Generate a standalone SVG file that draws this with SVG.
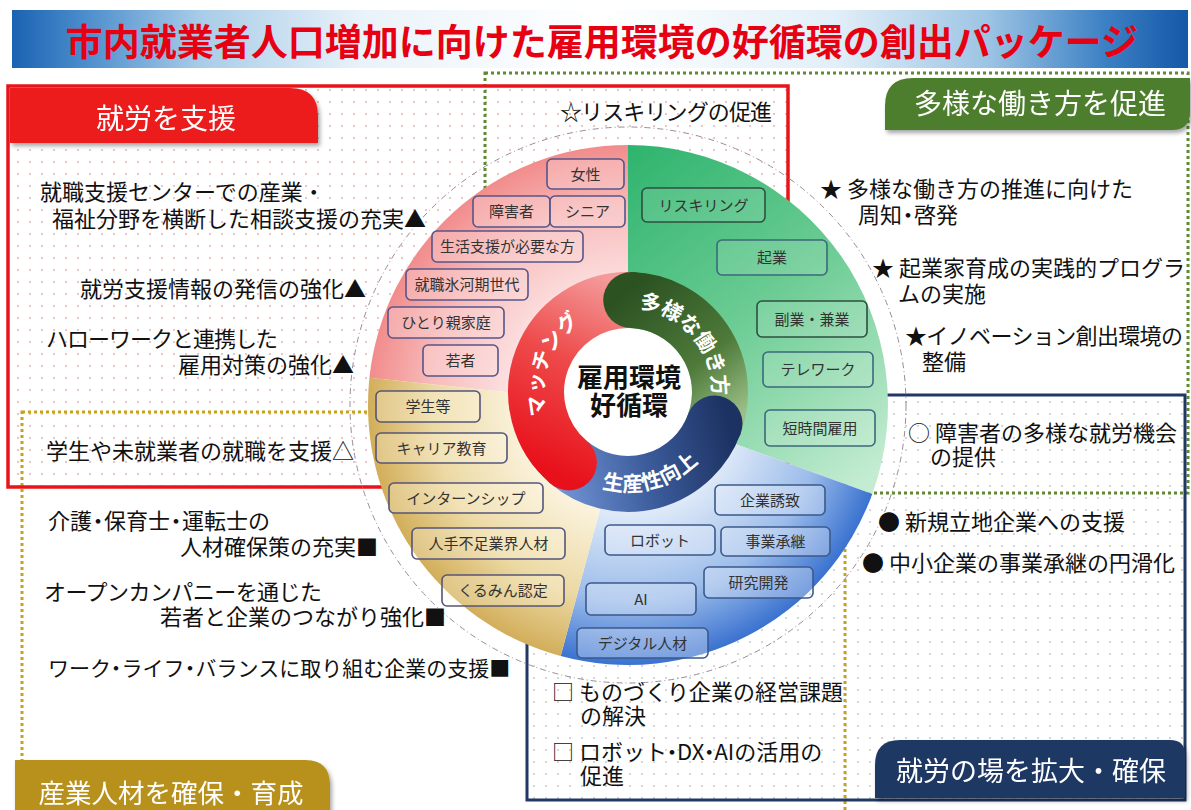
<svg xmlns="http://www.w3.org/2000/svg" width="1191" height="810" viewBox="0 0 1191 810">
<style>
.jp{font-family:"Noto Sans CJK JP","Noto Sans",sans-serif}
.body{font-size:22px;fill:#111}
.lbl{font-size:15px;fill:#333;text-anchor:middle}
.tab{fill:#fff;text-anchor:middle}
.band{font-size:21px;fill:#fff;font-weight:bold}
.pbox{fill:#fde0e0;fill-opacity:.35;stroke:#55558a;stroke-width:1.6}
.gbox{fill:#ffffff;fill-opacity:.12;stroke:#2f4f3f;stroke-width:1.6}
.gbox2{fill:#ffffff;fill-opacity:.12;stroke:#3a6a7a;stroke-width:1.6}
.bbox{fill:#eef4fd;fill-opacity:.35;stroke:#3a5a8a;stroke-width:1.6}
.ybox{fill:#fff8e6;fill-opacity:.3;stroke:#55557a;stroke-width:1.6}
</style>
<defs>
<pattern id="dotPink" width="12" height="12" patternUnits="userSpaceOnUse"><circle cx="6" cy="6" r="1.1" fill="#e8b8b8"/></pattern>
<pattern id="dotGray" width="12" height="12" patternUnits="userSpaceOnUse"><circle cx="6" cy="6" r="1.1" fill="#cccccc"/></pattern>
<linearGradient id="titleGrad" x1="0" y1="0" x2="1" y2="0">
<stop offset="0" stop-color="#1a62b2"/><stop offset="0.06" stop-color="#4a8ccc"/><stop offset="0.16" stop-color="#a8cce8"/><stop offset="0.3" stop-color="#eaf3fa"/><stop offset="0.5" stop-color="#ffffff"/><stop offset="0.7" stop-color="#e2eff8"/><stop offset="0.83" stop-color="#9cc4e4"/><stop offset="0.93" stop-color="#3c80c4"/><stop offset="1" stop-color="#1458a8"/>
</linearGradient>
<radialGradient id="gPink" cx="628" cy="405" r="260" gradientUnits="userSpaceOnUse"><stop offset="0.4" stop-color="#fde8e8"/><stop offset="0.75" stop-color="#f8bcbc"/><stop offset="1" stop-color="#f28c8c"/></radialGradient>
<linearGradient id="gGreen" x1="628" y1="150" x2="880" y2="470" gradientUnits="userSpaceOnUse"><stop offset="0" stop-color="#2fb46e"/><stop offset="0.5" stop-color="#6ccc94"/><stop offset="1" stop-color="#c4ecd2"/></linearGradient>
<radialGradient id="gBlue" cx="628" cy="405" r="260" gradientUnits="userSpaceOnUse"><stop offset="0.4" stop-color="#e2ecf9"/><stop offset="0.75" stop-color="#9cbcea"/><stop offset="1" stop-color="#3a72d0"/></radialGradient>
<radialGradient id="gGold" cx="628" cy="405" r="260" gradientUnits="userSpaceOnUse"><stop offset="0.4" stop-color="#fbf4e0"/><stop offset="0.75" stop-color="#ecd9a4"/><stop offset="1" stop-color="#d2ae5a"/></radialGradient>
<linearGradient id="bRed" x1="545" y1="470" x2="630" y2="290" gradientUnits="userSpaceOnUse"><stop offset="0" stop-color="#e8101a"/><stop offset="0.55" stop-color="#ee4a4a"/><stop offset="1" stop-color="#f49a9a"/></linearGradient>
<linearGradient id="bGreen" x1="630" y1="290" x2="735" y2="420" gradientUnits="userSpaceOnUse"><stop offset="0" stop-color="#2c5222"/><stop offset="0.6" stop-color="#4e7a3a"/><stop offset="1" stop-color="#9cc088"/></linearGradient>
<linearGradient id="bBlue" x1="555" y1="470" x2="730" y2="430" gradientUnits="userSpaceOnUse"><stop offset="0" stop-color="#7294d4"/><stop offset="0.5" stop-color="#3c5c9c"/><stop offset="1" stop-color="#1c3262"/></linearGradient>
<filter id="sh" x="-10%" y="-20%" width="120%" height="150%"><feDropShadow dx="2" dy="3" stdDeviation="2" flood-color="#000" flood-opacity="0.35"/></filter>
<path id="pRed" d="M558.8,440.5 A84.5,84.5 0 0 1 606.1,310.4"/>
<path id="pGreen" d="M628,307.5 A84.5,84.5 0 0 1 711.2,406.7"/>
<path id="pBlue" d="M564.0,468.2 A99.5,99.5 0 0 0 721.5,426.0"/>
</defs>

<rect x="0" y="0" width="1191" height="810" fill="#ffffff"/>

<g id="title">
<rect x="12" y="10" width="1176" height="58" fill="url(#titleGrad)"/>
<text class="jp" x="602" y="56" font-size="37" font-weight="bold" fill="#e60012" text-anchor="middle">市内就業者人口増加に向けた雇用環境の好循環の創出パッケージ</text>
</g>

<g id="frames">
<rect x="8" y="86" width="780" height="401" fill="url(#dotPink)"/>
<rect x="527" y="395" width="658" height="405" fill="url(#dotGray)"/>
<rect x="485" y="73" width="703" height="420" fill="none" stroke="#5e8a32" stroke-width="3" stroke-dasharray="3 3"/>
<rect x="22" y="412" width="823" height="420" fill="none" stroke="#c8a414" stroke-width="3" stroke-dasharray="3 3"/>
<rect x="527" y="395" width="658" height="405" fill="none" stroke="#1f3864" stroke-width="3"/>
<rect x="8" y="86" width="780" height="401" fill="none" stroke="#e8141a" stroke-width="3.5"/>
</g>

<g id="tab-shuro" filter="url(#sh)">
<path d="M10,88 H290 Q318,88 318,116 V143 H10 Z" fill="#ec1c1c"/>
<text class="jp tab" x="166" y="129" font-size="28">就労を支援</text>
</g>
<g id="tab-tayo" filter="url(#sh)">
<path d="M913,78 H1190 V112 Q1190,130 1172,130 H885 V106 Q885,78 913,78 Z" fill="#4e7e2e"/>
<text class="jp tab" x="1040" y="114" font-size="28">多様な働き方を促進</text>
</g>
<g id="tab-ba" filter="url(#sh)">
<path d="M900,740 H1170 Q1185,740 1185,755 V798 H875 V765 Q875,740 900,740 Z" fill="#1f3864"/>
<text class="jp tab" x="1031" y="781" font-size="27">就労の場を拡大・確保</text>
</g>
<g id="tab-sangyo" filter="url(#sh)">
<path d="M15,760 H305 Q330,760 330,785 V812 H15 Z" fill="#b8901c"/>
<text class="jp tab" x="171" y="803" font-size="26.5">産業人材を確保・育成</text>
</g>

<g id="wheel">
<circle cx="628" cy="405" r="278" fill="none" stroke="#9a8a9a" stroke-width="1" stroke-dasharray="6 3 1 3"/>
<path d="M628,405 L369.4,377.8 A260,260 0 0 1 628,145 Z" fill="url(#gPink)"/>
<path d="M628,405 L628,145 A260,260 0 0 1 872.3,493.9 Z" fill="url(#gGreen)"/>
<path d="M628,405 L872.3,493.9 A260,260 0 0 1 560.7,656.1 Z" fill="url(#gBlue)"/>
<path d="M628,405 L560.7,656.1 A260,260 0 0 1 369.4,377.8 Z" fill="url(#gGold)"/>
</g>

<g id="node-josei"><rect class="pbox" x="547" y="159" width="77" height="30" rx="5"/><text class="jp lbl" x="585.5" y="179.5">女性</text></g>
<g id="node-shogaisha"><rect class="pbox" x="473" y="196" width="77" height="31" rx="5"/><text class="jp lbl" x="511.5" y="217">障害者</text></g>
<g id="node-senior"><rect class="pbox" x="550" y="196" width="75" height="31" rx="5"/><text class="jp lbl" x="587.5" y="217">シニア</text></g>
<g id="node-seikatsu"><rect class="pbox" x="432" y="231" width="151" height="31" rx="5"/><text class="jp lbl" x="507.5" y="252">生活支援が必要な方</text></g>
<g id="node-hyogaki"><rect class="pbox" x="406" y="269" width="122" height="31" rx="5"/><text class="jp lbl" x="467" y="290">就職氷河期世代</text></g>
<g id="node-hitorioya"><rect class="pbox" x="388" y="307" width="116" height="31" rx="5"/><text class="jp lbl" x="446" y="328">ひとり親家庭</text></g>
<g id="node-wakamono"><rect class="pbox" x="423" y="345" width="75" height="31" rx="5"/><text class="jp lbl" x="460.5" y="366">若者</text></g>

<g id="node-reskilling"><rect class="gbox" x="642" y="188" width="123" height="34" rx="5"/><text class="jp lbl" x="703.5" y="210.5">リスキリング</text></g>
<g id="node-kigyo"><rect class="gbox2" x="717" y="240" width="110" height="35" rx="5"/><text class="jp lbl" x="772" y="263">起業</text></g>
<g id="node-fukugyo"><rect class="gbox" x="757" y="301" width="110" height="36" rx="5"/><text class="jp lbl" x="812" y="324.5">副業・兼業</text></g>
<g id="node-telework"><rect class="gbox2" x="763" y="352" width="110" height="35" rx="5"/><text class="jp lbl" x="818" y="375">テレワーク</text></g>
<g id="node-tanjikan"><rect class="gbox2" x="765" y="410" width="110" height="36" rx="5"/><text class="jp lbl" x="820" y="433.5">短時間雇用</text></g>

<g id="node-yuchi"><rect class="bbox" x="715" y="485" width="110" height="30" rx="5"/><text class="jp lbl" x="770" y="505.5">企業誘致</text></g>
<g id="node-robot"><rect class="bbox" x="605" y="525" width="110" height="30" rx="5"/><text class="jp lbl" x="660" y="545.5">ロボット</text></g>
<g id="node-shokei"><rect class="bbox" x="721" y="527" width="109" height="29" rx="5"/><text class="jp lbl" x="775.5" y="547">事業承継</text></g>
<g id="node-kenkyu"><rect class="bbox" x="704" y="567" width="109" height="31" rx="5"/><text class="jp lbl" x="758.5" y="588">研究開発</text></g>
<g id="node-ai"><rect class="bbox" x="586" y="583" width="110" height="32" rx="5"/><text class="jp lbl" x="641" y="604.5">AI</text></g>
<g id="node-digital"><rect class="bbox" x="577" y="628" width="131" height="30" rx="5"/><text class="jp lbl" x="642.5" y="648.5">デジタル人材</text></g>

<g id="node-gakusei"><rect class="ybox" x="376" y="391" width="104" height="31" rx="5"/><text class="jp lbl" x="428" y="412">学生等</text></g>
<g id="node-career"><rect class="ybox" x="376" y="433" width="131" height="30" rx="5"/><text class="jp lbl" x="441.5" y="453.5">キャリア教育</text></g>
<g id="node-intern"><rect class="ybox" x="389" y="483" width="154" height="30" rx="5"/><text class="jp lbl" x="466" y="503.5">インターンシップ</text></g>
<g id="node-hitode"><rect class="ybox" x="412" y="528" width="153" height="31" rx="5"/><text class="jp lbl" x="488.5" y="549">人手不足業界人材</text></g>
<g id="node-kurumin"><rect class="ybox" x="442" y="575" width="122" height="31" rx="5"/><text class="jp lbl" x="503" y="596">くるみん認定</text></g>

<g id="hub">
<circle cx="628" cy="392" r="64" fill="#ffffff"/>
<path d="M568.9,462.5 A92,92 0 0 1 631.2,300.1" fill="none" stroke="url(#bRed)" stroke-width="56"/>
<path d="M631.2,300.1 A92,92 0 0 1 714.5,423.5" fill="none" stroke="url(#bGreen)" stroke-width="56"/>
<path d="M714.5,423.5 A92,92 0 0 1 568.9,462.5" fill="none" stroke="url(#bBlue)" stroke-width="56"/>
<circle cx="568.9" cy="462.5" r="28" fill="url(#bRed)"/>
<circle cx="631.2" cy="300.1" r="28" fill="url(#bGreen)"/>
<circle cx="714.5" cy="423.5" r="28" fill="url(#bBlue)"/>
<text class="jp band"><textPath href="#pRed" startOffset="50%" text-anchor="middle">マッチング</textPath></text>
<text class="jp band"><textPath href="#pGreen" startOffset="50%" text-anchor="middle">多様な働き方</textPath></text>
<text class="jp band"><textPath href="#pBlue" startOffset="50%" text-anchor="middle">生産性向上</textPath></text>
<text class="jp" x="629" y="387" font-size="26" font-weight="bold" fill="#111" text-anchor="middle">雇用環境</text>
<text class="jp" x="629" y="415" font-size="26" font-weight="bold" fill="#111" text-anchor="middle">好循環</text>
</g>

<g id="connectors"></g>

<g id="texts" class="jp body">
<text x="560" y="120" textLength="212">☆リスキリングの促進</text>
<text x="40" y="200">就職支援センターでの産業・</text>
<text x="52" y="227">福祉分野を横断した相談支援の充実▲</text>
<text x="80" y="297">就労支援情報の発信の強化▲</text>
<text x="46" y="347" textLength="232">ハローワークと連携した</text>
<text x="178" y="373">雇用対策の強化▲</text>
<text x="46" y="459">学生や未就業者の就職を支援△</text>
<text x="48" y="529" dx="0 0 -5 -5 0 0 -5 -5">介護・保育士・運転士の</text>
<text x="180" y="555">人材確保策の充実■</text>
<text x="44" y="600" textLength="278">オープンカンパニーを通じた</text>
<text x="160" y="625">若者と企業のつながり強化■</text>
<text x="48" y="676" font-size="21" dx="0 0 0 -5 -5 0 0 -5 -5">ワーク・ライフ・バランスに取り組む企業の支援■</text>
<text x="820" y="197">★ 多様な働き方の推進に向けた</text>
<text x="858" y="223" dx="0 0 -5 -5">周知・啓発</text>
<text x="872" y="276">★ 起業家育成の実践的プログラ</text>
<text x="898" y="302">ムの実施</text>
<text x="905" y="344" textLength="278">★イノベーション創出環境の</text>
<text x="922" y="370">整備</text>
<text x="908" y="441">○ 障害者の多様な就労機会</text>
<text x="930" y="465">の提供</text>
<text x="878" y="530">● 新規立地企業への支援</text>
<text x="862" y="571">● 中小企業の事業承継の円滑化</text>
<text x="552" y="700">□ ものづくり企業の経営課題</text>
<text x="580" y="724">の解決</text>
<text x="552" y="760" dx="0 0 0 0 0 0 -6 -6 0 -6 -6">□ ロボット・DX・AIの活用の</text>
<text x="580" y="784">促進</text>
</g>
</svg>
